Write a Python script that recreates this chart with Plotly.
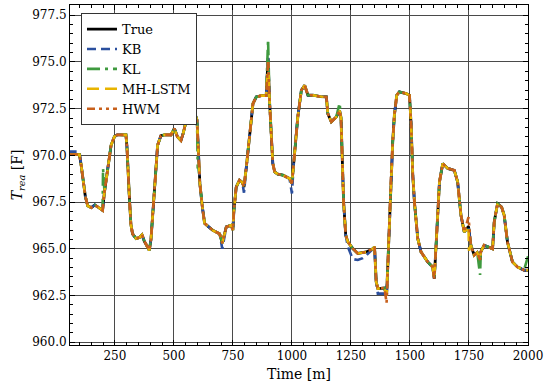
import plotly.graph_objects as go

# ---- data ----
TIME = [60, 100, 107, 114, 125, 135, 150, 165, 180, 198, 206, 220, 234, 248, 260, 297, 301, 311, 318, 325,
        340, 354, 365, 375, 396, 403, 410, 420, 431, 445, 460, 488, 502, 515, 530, 540, 551, 570, 590, 598,
        603, 610, 620, 630, 645, 665, 694, 705, 722, 743, 750, 754, 764, 778, 790, 797, 807, 821, 835, 849,
        870, 891, 899, 905, 915, 919, 927, 940, 962, 990, 1000, 1011, 1025, 1040, 1054, 1068, 1089, 1120, 1146, 1152,
        1167, 1188, 1202, 1208, 1213, 1219, 1228, 1237, 1258, 1279, 1315, 1343, 1350, 1357, 1364, 1392, 1401, 1406, 1413, 1420,
        1427, 1434, 1444, 1455, 1484, 1498, 1505, 1512, 1519, 1533, 1547, 1575, 1596, 1603, 1610, 1617, 1625, 1639, 1660, 1688,
        1702, 1716, 1730, 1748, 1758, 1772, 1785, 1797, 1800, 1814, 1830, 1850, 1857, 1871, 1888, 1899, 1913, 1934, 1955, 1984,
        2000]
TRUE = [970.05, 970.05, 969.5, 968.76, 967.8, 967.3, 967.2, 967.35, 967.2, 967.06, 968.04, 969.3, 970.54, 971.0, 971.1, 971.1, 970.5, 967.87, 966.3, 965.8,
        965.55, 965.6, 965.75, 965.4, 964.92, 965.5, 966.8, 968.76, 970.54, 971.05, 971.1, 971.1, 971.44, 971.0, 970.8, 971.2, 971.8, 971.9, 972.2, 971.9,
        970.0, 968.5, 967.3, 966.37, 966.2, 965.99, 965.8, 965.3, 966.17, 966.26, 966.0, 967.0, 968.3, 968.67, 968.55, 968.3, 969.38, 970.99, 972.77, 973.13,
        973.2, 973.2, 975.2, 972.95, 970.81, 969.58, 969.11, 969.0, 968.94, 968.76, 968.5, 970.27, 972.06, 973.49, 973.75, 973.22, 973.22, 973.15, 973.13, 972.24,
        971.8, 972.06, 972.4, 972.0, 970.0, 967.5, 965.73, 965.37, 965.01, 964.75, 964.83, 965.0, 965.1, 963.23, 962.87, 962.9, 962.5, 964.0, 966.44, 968.94,
        970.72, 972.15, 973.22, 973.4, 973.31, 973.22, 971.61, 968.94, 967.5, 965.55, 964.83, 964.3, 964.03, 963.4, 965.0, 966.8, 968.58, 969.56, 969.3, 969.2,
        968.58, 966.8, 965.9, 966.2, 965.19, 964.66, 964.8, 964.4, 964.83, 965.19, 965.1, 965.0, 966.44, 967.42, 967.24, 966.8, 965.37, 964.3, 964.03, 963.85,
        963.85]

# model points that differ from the true curve (time: value)
KB_DIFF = {62: 970.2, 100: 970.2, 705: 965.0, 797: 968.0, 899: 975.3, 1000: 967.96, 1237: 965.1, 1258: 964.45,
           1279: 964.4, 1300: 964.5, 1315: 964.65, 1364: 962.6, 1392: 962.6}
KL_DIFF = {200: 969.3, 203: 968.1, 601: 969.3, 604: 969.4, 899: 976.2, 1202: 972.8, 1797: 963.6, 1984: 963.9, 2000: 964.6}
MH_DIFF = {899: 975.0, 1750: 964.9}
HWM_DIFF = {899: 975.0, 1401: 962.1, 1748: 966.7}


def merged(diff):
    pts = dict(zip(TIME, TRUE))
    pts.update(diff)
    ks = sorted(pts)
    return ks, [pts[k] for k in ks]


FONT = "DejaVu Serif"
fig = go.Figure()
fig.add_trace(go.Scatter(x=TIME, y=TRUE, mode="lines", name="True",
                         line=dict(color="black", width=2.8)))
series = [
    ("KB", KB_DIFF, "#2b4f9e", "9px,5px"),
    ("KL", KL_DIFF, "#3f9a3f", "13px,5px,3px,5px"),
    ("MH-LSTM", MH_DIFF, "#e8b400", "12px,6px"),
    ("HWM", HWM_DIFF, "#c8601c", "8px,4px,3px,4px,3px,4px"),
]
for name, diff, col, dash in series:
    xs, ys = merged(diff)
    fig.add_trace(go.Scatter(x=xs, y=ys, mode="lines", name=name,
                             line=dict(color=col, width=2.6, dash=dash)))

axis_common = dict(
    showline=True, linecolor="black", linewidth=1, mirror="ticks",
    ticks="inside", ticklen=5, tickcolor="black",
    showgrid=True, gridcolor="#4a4a4a", gridwidth=0.8, zeroline=False,
    tickfont=dict(family=FONT, size=12, color="black"),
)
fig.update_xaxes(**axis_common, range=[60, 2000], tick0=0, dtick=250,
                 minor=dict(ticks="inside", ticklen=3, dtick=50, tick0=0, tickcolor="black", showgrid=False),
                 title=dict(text="Time [m]", font=dict(family=FONT, size=14, color="black"), standoff=6))
fig.update_yaxes(**axis_common, range=[959.85, 978.05], tick0=960, dtick=2.5, tickformat=".1f",
                 minor=dict(ticks="inside", ticklen=3, dtick=0.5, tick0=960, tickcolor="black", showgrid=False),
                 title=dict(text="<i>T</i><sub><i>rea</i></sub> [F]", font=dict(family=FONT, size=14, color="black"), standoff=6))

fig.update_layout(
    width=550, height=392,
    margin=dict(l=70, r=22, t=5, b=47, autoexpand=False),
    paper_bgcolor="white", plot_bgcolor="white",
    font=dict(family=FONT, color="black"),
    legend=dict(x=0.024, y=0.976, xanchor="left", yanchor="top",
                bgcolor="white", bordercolor="#333", borderwidth=1,
                font=dict(family=FONT, size=13, color="black"), itemwidth=30),
)
fig.write_html("out.html", config={"displayModeBar": False},
               post_script="document.body.style.margin='0px';")
